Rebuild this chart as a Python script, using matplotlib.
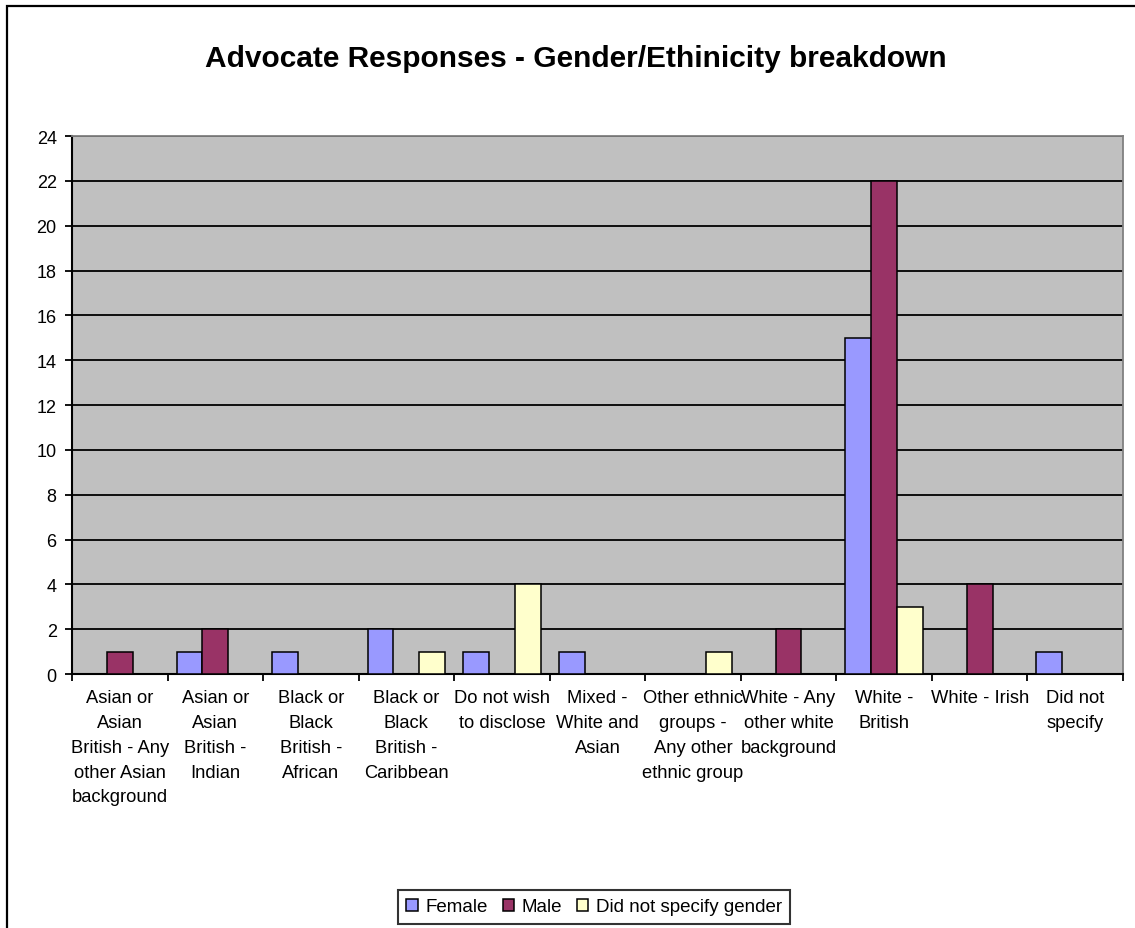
import numpy as np
import matplotlib
matplotlib.use("Agg")
import matplotlib.pyplot as plt
from matplotlib.patches import Rectangle

plt.rcParams['font.family'] = ['Liberation Sans', 'DejaVu Sans']

categories = [
    "Asian or\nAsian\nBritish - Any\nother Asian\nbackground",
    "Asian or\nAsian\nBritish -\nIndian",
    "Black or\nBlack\nBritish -\nAfrican",
    "Black or\nBlack\nBritish -\nCaribbean",
    "Do not wish\nto disclose",
    "Mixed -\nWhite and\nAsian",
    "Other ethnic\ngroups -\nAny other\nethnic group",
    "White - Any\nother white\nbackground",
    "White -\nBritish",
    "White - Irish",
    "Did not\nspecify",
]
female = [0, 1, 1, 2, 1, 1, 0, 0, 15, 0, 1]
male = [1, 2, 0, 0, 0, 0, 0, 2, 22, 4, 0]
not_specified = [0, 0, 0, 1, 4, 0, 1, 0, 3, 0, 0]

series = [
    ("Female", female, "#9999FF"),
    ("Male", male, "#993366"),
    ("Did not specify gender", not_specified, "#FFFFCC"),
]

fig = plt.figure(figsize=(11.35, 9.29), dpi=100)
ax = fig.add_axes([0.0634, 0.2734, 0.926, 0.5791])
ax.set_facecolor("#C0C0C0")

# outer chart border (only left and top edges fall inside the image)
fig.patches.append(Rectangle((7 / 1135, -0.1), 1.2, 1 - 7 / 929 + 0.1,
                             transform=fig.transFigure, fill=False,
                             edgecolor="black", linewidth=1.6))

x = np.arange(len(categories))
w = 0.27
for i, (name, vals, col) in enumerate(series):
    ax.bar(x + (i - 1) * w, vals, width=w, color=col, edgecolor="black",
           linewidth=1.1, label=name, zorder=3)

ax.set_xlim(-0.5, len(categories) - 0.5)
ax.set_ylim(0, 24)
ax.set_yticks(np.arange(0, 25, 2))
ax.yaxis.grid(True, color="black", linewidth=1.3)
ax.set_axisbelow(True)

ax.set_xticks(x)
ax.set_xticklabels(categories, fontsize=13.2, linespacing=1.6)
ax.set_xticks(np.arange(-0.5, len(categories)), minor=True)
ax.tick_params(axis="x", which="major", length=0, pad=11)
ax.tick_params(axis="x", which="minor", length=5, width=1.3, direction="out")
ax.tick_params(axis="y", length=5, width=1.3, labelsize=13, pad=6)

for side in ["top", "right"]:
    ax.spines[side].set_color("#808080")
    ax.spines[side].set_linewidth(1.3)
for side in ["left", "bottom"]:
    ax.spines[side].set_linewidth(1.5)

fig.text(0.507, 0.937, "Advocate Responses - Gender/Ethinicity breakdown",
         ha="center", va="center", fontsize=21.5, fontweight="bold")

leg = fig.legend(loc="center", bbox_to_anchor=(594 / 1135, 1 - 908 / 929),
                 ncol=3, fontsize=13.5, frameon=True, fancybox=False,
                 edgecolor="black", handlelength=0.6, handleheight=0.6,
                 handletextpad=0.4, columnspacing=0.8, borderpad=0.45)
leg.get_frame().set_linewidth(1.5)

fig.savefig("out.png", dpi=100)
